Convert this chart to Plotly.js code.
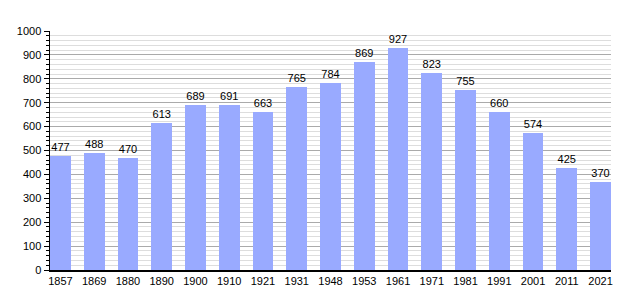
<!DOCTYPE html>
<html>
<head>
<meta charset="utf-8">
<script src="https://cdn.plot.ly/plotly-3.0.1.min.js"></script>
<style>html,body{margin:0;padding:0;background:#fff;}#chart{width:640px;height:300px;}</style>
</head>
<body>
<div id="chart"></div>
<script>
const years = ["1857","1869","1880","1890","1900","1910","1921","1931","1948","1953","1961","1971","1981","1991","2001","2011","2021"];
const population = [477,488,470,613,689,691,663,765,784,869,927,823,755,660,574,425,370];

const trace = {
  type: 'bar',
  x: years,
  y: population,
  text: population.map(String),
  textposition: 'outside',
  cliponaxis: false,
  textfont: {family: 'Liberation Sans, Arial, sans-serif', size: 11, color: '#000'},
  marker: {color: '#99aaff', line: {width: 0}},
  width: 0.62,
  hoverinfo: 'none'
};

const layout = {
  width: 640, height: 300,
  margin: {l: 50, r: 29, t: 31, b: 30},
  paper_bgcolor: '#fff', plot_bgcolor: '#fff',
  showlegend: false,
  font: {family: 'Liberation Sans, Arial, sans-serif', size: 11, color: '#000'},
  xaxis: {
    type: 'category',
    range: [-0.31, 16.31],
    showgrid: false,
    showline: true, linecolor: '#000', linewidth: 1.5,
    ticks: '', tickfont: {size: 11},
    fixedrange: true
  },
  yaxis: {
    range: [0, 1000],
    dtick: 100, tick0: 0,
    showgrid: true, gridcolor: '#aaaaaa', gridwidth: 1,
    showline: true, linecolor: '#000', linewidth: 1.5,
    ticks: 'outside', ticklen: 5, tickcolor: '#000', tickwidth: 1,
    tickfont: {size: 11},
    zeroline: false,
    minor: {dtick: 20, showgrid: true, gridcolor: '#dddddd', gridwidth: 1, ticks: 'outside', ticklen: 3, tickcolor: '#000'},
    fixedrange: true
  },
  bargap: 0
};

Plotly.newPlot('chart', [trace], layout, {staticPlot: true, displayModeBar: false});
</script>
</body>
</html>
